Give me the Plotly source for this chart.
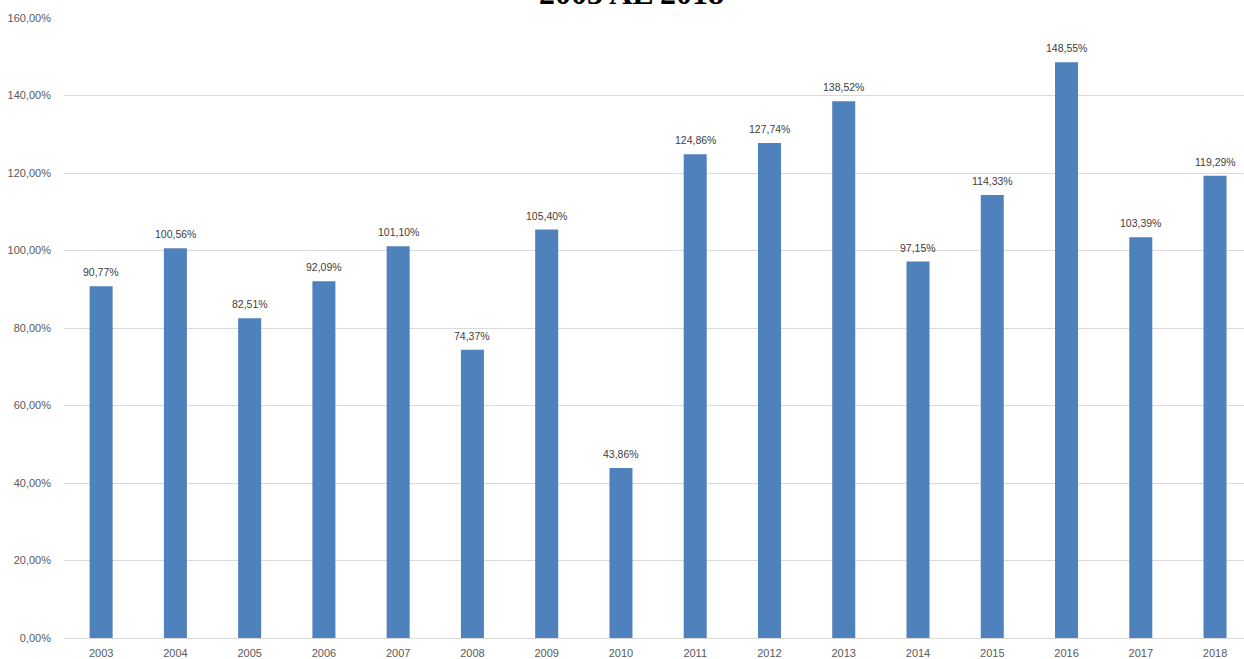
import plotly.graph_objects as go

years = ["2003", "2004", "2005", "2006", "2007", "2008", "2009", "2010",
         "2011", "2012", "2013", "2014", "2015", "2016", "2017", "2018"]
values = [90.77, 100.56, 82.51, 92.09, 101.10, 74.37, 105.40, 43.86,
          124.86, 127.74, 138.52, 97.15, 114.33, 148.55, 103.39, 119.29]
y_ticks = [0, 20, 40, 60, 80, 100, 120, 140, 160]
y_tick_labels = ["0,00%", "20,00%", "40,00%", "60,00%", "80,00%",
                 "100,00%", "120,00%", "140,00%", "160,00%"]

fig = go.Figure()
fig.add_trace(go.Bar(
    x=years, y=values,
    marker=dict(color="#4F81BD", line=dict(width=0)),
    hoverinfo="x+y",
))

label_annotations = [
    dict(x=i, y=v, xref="x", yref="y",
         text=f"{v:.2f}%".replace(".", ","),
         showarrow=False, xanchor="center", yanchor="middle", yshift=14,
         font=dict(family="Liberation Sans, Arial", size=10.5, color="#404040"))
    for i, v in enumerate(values)
]

title_annotation = dict(
    text="<b>2003 AL 2018</b>", xref="paper", yref="paper",
    x=(631 - 64) / 1180, y=1.041, xanchor="center", yanchor="middle",
    showarrow=False,
    font=dict(family="Liberation Serif, Times New Roman", size=32, color="black"),
)

fig.update_layout(
    width=1244, height=659,
    margin=dict(l=64, r=0, t=18, b=21),
    plot_bgcolor="white", paper_bgcolor="white",
    separators=",.",
    bargap=0.69,
    showlegend=False,
    font=dict(family="Liberation Sans, Arial", size=11, color="#595959"),
    xaxis=dict(type="category", range=[-0.5, 15.39], showgrid=False,
               showline=True, linecolor="#D9D9D9", linewidth=1,
               ticks="", ticklabelstandoff=5,
               tickfont=dict(size=11, color="#595959")),
    yaxis=dict(range=[0, 160], tickvals=y_ticks, ticktext=y_tick_labels,
               showgrid=True, gridcolor="#D9D9D9", gridwidth=1,
               zeroline=False, showline=False, ticks="",
               ticklabelstandoff=12,
               tickfont=dict(size=11, color="#595959")),
    annotations=label_annotations + [title_annotation],
)

fig.write_html("out.html", config={"displayModeBar": False},
               post_script="document.body.style.margin='0';")
